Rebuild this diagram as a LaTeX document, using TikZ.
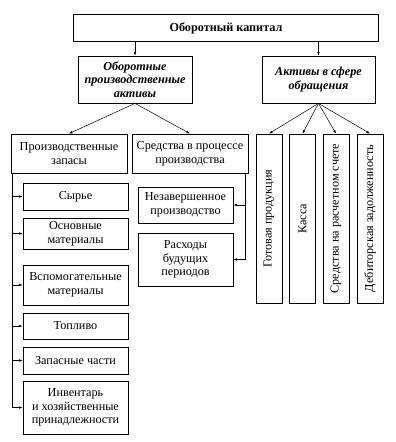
\documentclass[tikz,border=0pt]{standalone}
\usepackage{fontspec}
\setmainfont{Liberation Serif}
\usetikzlibrary{arrows.meta}
\begin{document}
\begin{tikzpicture}[x=1pt,y=-1pt,
font=\fontsize{12.2}{13.6}\selectfont,
box/.style={draw, line width=0.8pt, align=center, inner sep=1pt},
vbox/.style={draw, line width=0.8pt, minimum width=26pt, minimum height=169pt},
arrow/.style={-{Latex[length=3.5pt,width=2.5pt]}, line width=0.5pt}
]
\useasboundingbox (0,0) rectangle (396,442);
\node[box, minimum width=305pt, minimum height=27pt] (cap) at (226,28) {\textbf{Оборотный капитал}};
\node[box, minimum width=114pt, minimum height=47pt] (ofa) at (135,79.5) {\textbf{\textit{Оборотные}}\\\textbf{\textit{производственные}}\\\textbf{\textit{активы}}};
\node[box, minimum width=113pt, minimum height=47pt] (afo) at (318.5,79.5) {\textbf{\textit{Активы в сфере}}\\\textbf{\textit{обращения}}};
\draw[arrow] (cap.south -| ofa.north) -- (ofa.north);
\draw[arrow] (cap.south -| afo.north) -- (afo.north);
% производственные активы
\node[box, minimum width=116pt, minimum height=39pt] (pz) at (69,153.5) {Производственные\\запасы};
\node[box, minimum width=116pt, minimum height=39pt] (spp) at (190,153.5) {Средства в процессе\\производства};
\draw[arrow] (ofa.south) -- (pz.north);
\draw[arrow] (ofa.south) -- (spp.north);
\node[box, minimum width=105pt, minimum height=27pt] (syr) at (75.5,196.5) {Сырье};
\node[box, minimum width=105pt, minimum height=31pt] (osn) at (75.5,233.5) {Основные\\материалы};
\node[box, minimum width=105pt, minimum height=40pt] (vsp) at (75.5,285) {Вспомогательные\\материалы};
\node[box, minimum width=105pt, minimum height=26pt] (top) at (75.5,326) {Топливо};
\node[box, minimum width=105pt, minimum height=27pt] (zap) at (75.5,360.5) {Запасные части};
\node[box, minimum width=105pt, minimum height=53pt] (inv) at (75.5,407.5) {Инвентарь\\и хозяйственные\\принадлежности};
\coordinate (lt) at ([xshift=1.5pt]pz.south west);
\draw[line width=0.5pt] (lt) -- (lt |- inv);
\foreach \n in {syr,osn,vsp,top,zap,inv} {\draw[arrow] (lt |- \n) -- (\n.west);}
\node[box, minimum width=95pt, minimum height=36pt] (nez) at (185.5,205) {Незавершенное\\производство};
\node[box, minimum width=95pt, minimum height=53pt] (rbp) at (185.5,259.5) {Расходы\\будущих\\периодов};
\coordinate (rt) at ([xshift=-3pt]spp.south east);
\draw[line width=0.5pt] (rt) -- (rt |- rbp);
\foreach \n in {nez,rbp} {\draw[arrow] (rt |- \n) -- (\n.east);}
% активы в сфере обращения
\node[vbox] (gp) at (269,218.5) {\rotatebox{90}{Готовая продукция}};
\node[vbox] (ks) at (302.5,218.5) {\rotatebox{90}{Касса}};
\node[vbox] (rs) at (336,218.5) {\rotatebox{90}{Средства на расчетном счете}};
\node[vbox] (dz) at (370,218.5) {\rotatebox{90}{Дебиторская задолженность}};
\foreach \n in {gp,ks,rs,dz} {\draw[arrow] (afo.south) -- (\n.north);}
\end{tikzpicture}
\end{document}
